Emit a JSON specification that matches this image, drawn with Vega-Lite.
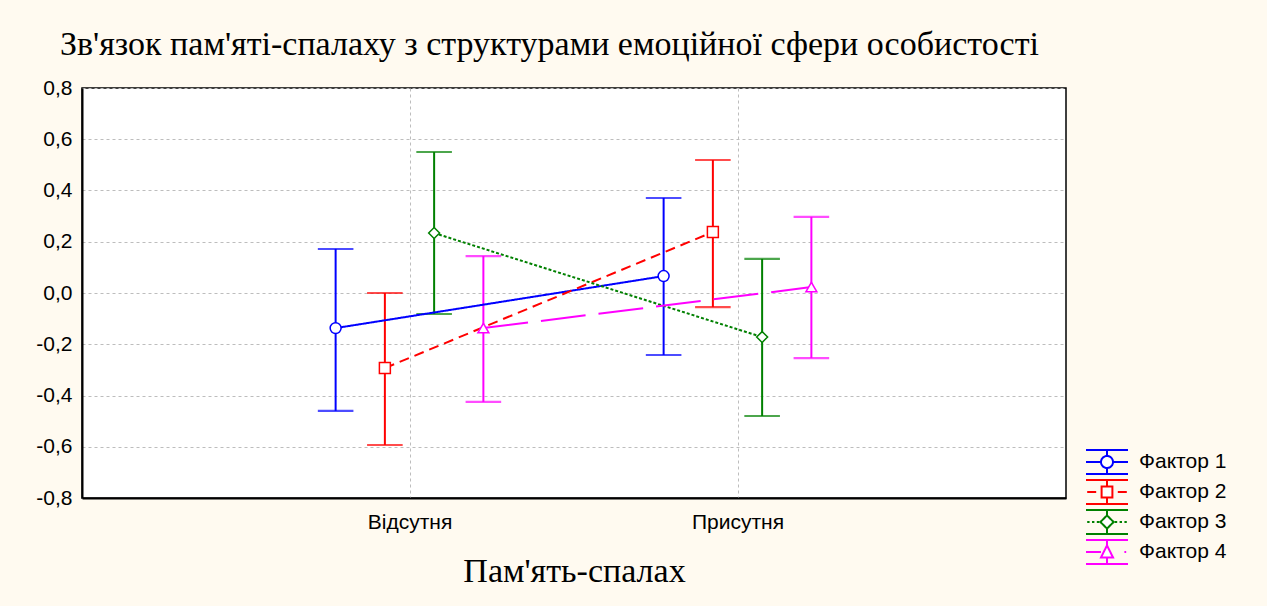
{
  "$schema": "https://vega.github.io/schema/vega-lite/v6.json",
  "autosize": "none",
  "width": 984,
  "height": 410,
  "padding": {"left": 82, "top": 88, "right": 201, "bottom": 108},
  "background": "#FFFAF0",
  "title": {
    "text": "Зв'язок пам'яті-спалаху з структурами емоційної сфери особистості",
    "anchor": "start",
    "frame": "group",
    "dx": -22,
    "offset": 15,
    "font": "Liberation Serif",
    "fontSize": 34,
    "fontWeight": "normal",
    "color": "#000000"
  },
  "config": {
    "locale": {"number": {"decimal": ",", "thousands": " ", "grouping": [3], "currency": ["", ""], "minus": "-"}},
    "view": {"fill": "white", "stroke": "black", "strokeWidth": 1.5},
    "axis": {
      "labelFont": "Liberation Sans",
      "labelFontSize": 21,
      "labelColor": "#000000",
      "domainColor": "#000000",
      "domainWidth": 2,
      "tickColor": "#000000",
      "grid": true,
      "gridColor": "#bdbdbd",
      "gridDash": [3, 3],
      "gridWidth": 1,
      "titleFont": "Liberation Serif",
      "titleFontSize": 34,
      "titleFontWeight": "normal",
      "titleColor": "#000000"
    },
    "legend": {
      "labelFont": "Liberation Sans",
      "labelFontSize": 21,
      "labelColor": "#000000"
    }
  },
  "data": {
    "values": [
      {"factor": "Фактор 1", "presence": "Відсутня", "mean": -0.137, "lo": -0.46, "hi": 0.172},
      {"factor": "Фактор 1", "presence": "Присутня", "mean": 0.066, "lo": -0.242, "hi": 0.371},
      {"factor": "Фактор 2", "presence": "Відсутня", "mean": -0.293, "lo": -0.593, "hi": 0.0},
      {"factor": "Фактор 2", "presence": "Присутня", "mean": 0.238, "lo": -0.055, "hi": 0.519},
      {"factor": "Фактор 3", "presence": "Відсутня", "mean": 0.234, "lo": -0.082, "hi": 0.55},
      {"factor": "Фактор 3", "presence": "Присутня", "mean": -0.172, "lo": -0.48, "hi": 0.133},
      {"factor": "Фактор 4", "presence": "Відсутня", "mean": -0.137, "lo": -0.425, "hi": 0.144},
      {"factor": "Фактор 4", "presence": "Присутня", "mean": 0.023, "lo": -0.254, "hi": 0.297}
    ]
  },
  "encoding": {
    "x": {
      "field": "presence",
      "type": "nominal",
      "sort": ["Відсутня", "Присутня"],
      "scale": {"type": "band", "paddingInner": 0, "paddingOuter": 0.5},
      "axis": {"title": "Пам'ять-спалах", "labelAngle": 0, "ticks": false, "labelPadding": 13, "titlePadding": 22, "bandPosition": 0.5}
    },
    "xOffset": {
      "field": "factor",
      "type": "nominal",
      "scale": {"type": "band", "paddingInner": 0, "paddingOuter": 0, "range": [65, 262]}
    },
    "color": {
      "field": "factor",
      "type": "nominal",
      "scale": {"domain": ["Фактор 1", "Фактор 2", "Фактор 3", "Фактор 4"], "range": ["#0000FF", "#FF0000", "#008000", "#FF00FF"]},
      "legend": {
        "title": null,
        "orient": "none",
        "legendX": 1012,
        "legendY": 361,
        "padding": 0,
        "symbolSize": 576,
        "symbolStrokeWidth": 2,
        "rowPadding": -2,
        "labelOffset": 19,
        "encode": {
          "symbols": {
            "update": {
              "shape": {"signal": "datum.value === 'Фактор 1' ? 'M-1.75,-1H1.75M-1.75,1H1.75M0,-1V-0.5M0,0.5V1M-1.75,0H-0.5M0.5,0H1.75M0.5,0A0.5,0.5 0 1,1 -0.5,0A0.5,0.5 0 1,1 0.5,0Z' : datum.value === 'Фактор 2' ? 'M-1.75,-1H1.75M-1.75,1H1.75M0,-1V-0.45M0,0.45V1M-1.65,0H-0.9M0.9,0H1.65M-0.45,-0.45H0.45V0.45H-0.45Z' : datum.value === 'Фактор 3' ? 'M-1.75,-1H1.75M-1.75,1H1.75M0,-1V-0.55M0,0.55V1M-1.65,0H-1.45M-1.25,0H-1.05M-0.85,0H-0.65M0.65,0H0.85M1.05,0H1.25M1.45,0H1.65M0,-0.55L0.55,0L0,0.55L-0.55,0Z' : 'M-1.75,-1H1.75M-1.75,1H1.75M0,-1V-0.55M0,0.45V1M-1.75,0H-0.5M1.45,0H1.6M0,-0.55L0.5,0.45L-0.5,0.45Z'"},
              "fill": {"value": "white"},
              "strokeWidth": {"value": 2},
              "strokeDash": {"value": [1, 0]},
              "opacity": {"value": 1}
            }
          }
        }
      }
    }
  },
  "layer": [
    {
      "mark": {"type": "rule", "strokeWidth": 2},
      "encoding": {
        "y": {
          "field": "lo",
          "type": "quantitative",
          "scale": {"domain": [-0.8, 0.8], "nice": false},
          "axis": {"title": null, "values": [-0.8, -0.6, -0.4, -0.2, 0, 0.2, 0.4, 0.6, 0.8], "format": ".1f", "ticks": false, "labelPadding": 10}
        },
        "y2": {"field": "hi"}
      }
    },
    {
      "mark": {"type": "tick", "orient": "horizontal", "size": 34, "thickness": 0.5, "filled": false, "strokeWidth": 1.6},
      "encoding": {"y": {"field": "lo", "type": "quantitative"}}
    },
    {
      "mark": {"type": "tick", "orient": "horizontal", "size": 34, "thickness": 0.5, "filled": false, "strokeWidth": 1.6},
      "encoding": {"y": {"field": "hi", "type": "quantitative"}}
    },
    {
      "mark": {"type": "line", "strokeWidth": 2},
      "encoding": {
        "y": {"field": "mean", "type": "quantitative"},
        "strokeDash": {
          "field": "factor",
          "type": "nominal",
          "scale": {"domain": ["Фактор 2", "Фактор 1", "Фактор 4", "Фактор 3"], "range": [[10, 6], [1, 0], [45, 13], [3, 2]]},
          "legend": null
        }
      }
    },
    {
      "mark": {"type": "point", "filled": false, "fill": "white", "fillOpacity": 1, "size": 120, "strokeWidth": 1.5, "opacity": 1},
      "encoding": {
        "y": {"field": "mean", "type": "quantitative"},
        "shape": {
          "field": "factor",
          "type": "nominal",
          "scale": {"domain": ["Фактор 4", "Фактор 3", "Фактор 2", "Фактор 1"], "range": ["triangle-up", "diamond", "square", "circle"]},
          "legend": null
        }
      }
    }
  ]
}
